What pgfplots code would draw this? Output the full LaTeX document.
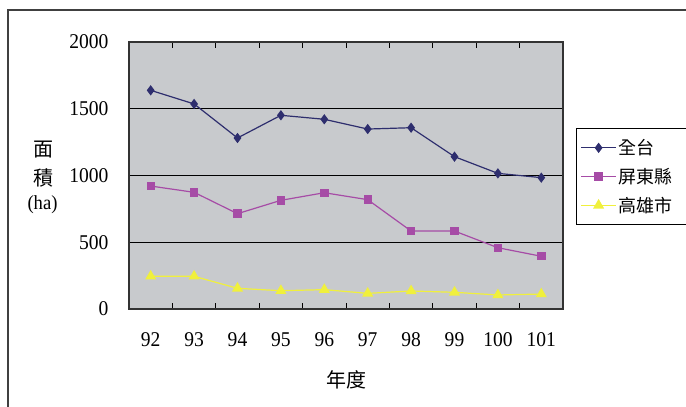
\documentclass[border=0pt]{standalone}
\usepackage{pgfplots}
\pgfplotsset{compat=1.18}
\usepackage{fontspec}
\setmainfont{Liberation Serif}[FakeStretch=0.93]
\newfontfamily\cjk{Noto Sans CJK TC}

\definecolor{plotbg}{RGB}{200,202,205}
\definecolor{allc}{RGB}{46,46,110}
\definecolor{ptc}{RGB}{166,76,166}
\definecolor{khc}{RGB}{240,240,60}

% 面積 (ha), 年度 92-101
\pgfplotstableread{
x  all   pt   kh
0  1638  921  245
1  1536  874  245
2  1281  714  155
3  1451  814  137
4  1421  871  145
5  1348  819  117
6  1358  584  135
7  1141  584  125
8  1016  459  105
9  984   395  112
}\areadata

\begin{document}
\begin{tikzpicture}[x=1pt,y=1pt]
\useasboundingbox (0,0) rectangle (686,407);
\draw[line width=1.2pt, black!75] (8,-40) rectangle (740,397);

\begin{axis}[
    at={(129pt,98pt)}, anchor=south west,
    scale only axis, width=434pt, height=267pt,
    xmin=-0.5, xmax=9.5, ymin=0, ymax=2000,
    axis background/.style={fill=plotbg},
    axis line style={black!80, line width=1.2pt},
    xtick={0,...,9},
    xticklabels={92,93,94,95,96,97,98,99,100,101},
    minor xtick={0.5,1.5,...,8.5},
    ytick={0,500,1000,1500,2000},
    major tick length=0pt,
    minor tick length=6pt,
    tick align=inside,
    minor tick style={black, line width=1pt},
    ymajorgrids,
    major grid style={black, line width=0.9pt},
    /pgf/number format/assume math mode=true,
    /pgf/number format/1000 sep={},
    ticklabel style={font=\fontsize{21}{24}\selectfont},
    xticklabel style={yshift=-20pt},
    yticklabel style={xshift=-17pt},
    legend style={at={(1,1)}, anchor=north west, xshift=13pt, yshift=-86pt,
      draw=black, line width=1pt, fill=white,
      font=\cjk\fontsize{18}{20}\selectfont,
      inner xsep=4pt, inner ysep=9pt, row sep=8pt},
    legend cell align=left,
    legend image code/.code={\draw[mark repeat=2, mark phase=2, #1]
      plot coordinates {(0pt,0pt) (17.5pt,0pt) (35pt,0pt)};},
  ]
  \addplot[allc, line width=1.2pt, mark=diamond*, mark size=4.2pt]
    table[x=x, y=all] {\areadata};
  \addplot[ptc, line width=1.2pt, mark=square*, mark size=3.6pt]
    table[x=x, y=pt] {\areadata};
  \addplot[khc, line width=1.2pt, mark=triangle*, mark size=5.2pt]
    table[x=x, y=kh] {\areadata};
  \legend{\makebox[110pt][l]{全台},屏東縣,高雄市}
\end{axis}

\node[font=\cjk\fontsize{20}{20}\selectfont] at (44,257) {面};
\node[font=\cjk\fontsize{20}{20}\selectfont] at (44,229) {積};
\node[font=\fontsize{20}{20}\selectfont] at (42.5,202) {(ha)};
\node[font=\cjk\fontsize{20}{20}\selectfont] at (346,27) {年度};
\end{tikzpicture}
\end{document}
